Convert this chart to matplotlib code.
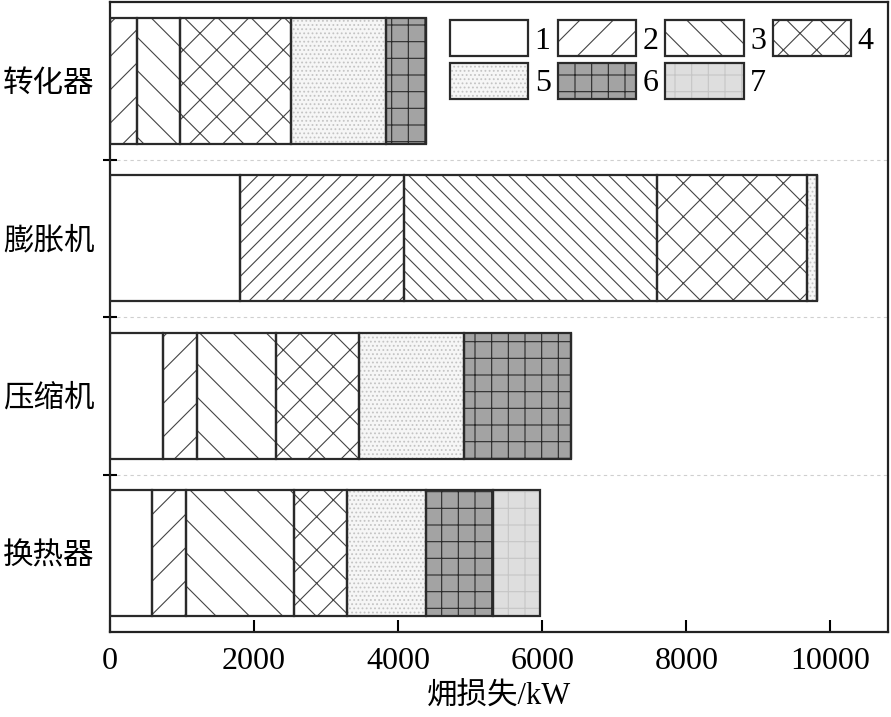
import numpy as np
import matplotlib
matplotlib.use('Agg')
import matplotlib.pyplot as plt
from matplotlib.patches import Patch

plt.rcParams['font.family'] = ['Liberation Serif', 'Noto Sans CJK SC']
plt.rcParams['hatch.linewidth'] = 0.8

# units from bottom to top
units = ['换热器', '压缩机', '膨胀机', '转化器']
labels = ['1', '2', '3', '4', '5', '6', '7']

# exergy loss of each part (kW), one list per legend item
s1 = [580, 740, 1800, 0]
s2 = [470, 470, 2280, 380]
s3 = [1500, 1090, 3510, 590]
s4 = [740, 1150, 2080, 1540]
s5 = [1090, 1470, 150, 1320]
s6 = [935, 1480, 0, 550]
s7 = [660, 0, 0, 0]
series = [s1, s2, s3, s4, s5, s6, s7]

# face colour, hatch, hatch colour
styles = [
    ('white', '', '#222222'),
    ('white', '/', '#444444'),
    ('white', '\\', '#444444'),
    ('white', 'x', '#444444'),
    ('#f6f6f6', '....', '#c4c4c4'),
    ('#a3a3a3', '+', '#2a2a2a'),
    ('#dedede', '+', '#c6c6c6'),
]
edge = '#2a2a2a'

fig = plt.figure(figsize=(8.91, 7.17), dpi=100)
ax = fig.add_axes([110/891, 1 - 632/717, 778/891, 630/717])

y = np.arange(len(units))
left = np.zeros(len(units))
for vals, (fc, hatch, hc) in zip(series, styles):
    vals = np.array(vals, dtype=float)
    bars = ax.barh(y, vals, left=left, height=0.8, color=fc, edgecolor=hc,
                   hatch=hatch, linewidth=0, zorder=2)
    # the expander bar has denser hatching
    if hatch in ('/', '\\'):
        bars[2].set_hatch(hatch * 2)
    ax.barh(y, vals, left=left, height=0.8, fill=False, edgecolor=edge,
            linewidth=1.6, zorder=3)
    left += vals

ax.set_xlim(0, 10800)
ax.set_ylim(-0.5, 3.5)
ax.set_xticks(np.arange(0, 10001, 2000))
ax.set_yticks(y)
ax.set_yticklabels(units)
ax.set_yticks([0.5, 1.5, 2.5], minor=True)
ax.grid(which='minor', axis='y', color='#cfcfcf', linestyle=(0, (3, 3)), linewidth=0.8)
ax.set_axisbelow(True)

ax.tick_params(axis='x', direction='in', length=9, width=1.5, labelsize=23, pad=11)
ax.tick_params(axis='y', which='major', length=0, labelsize=22, pad=11)
ax.tick_params(axis='y', which='minor', direction='inout', length=10, width=1.5)
for sp in ax.spines.values():
    sp.set_linewidth(1.6)
    sp.set_color('#222222')

ax.set_xlabel('㶲损失/kW', fontsize=22, labelpad=5)

handles = []
for fc, hatch, hc in styles:
    handles.append((Patch(facecolor=fc, edgecolor=hc, hatch=hatch, linewidth=0),
                    Patch(fill=False, edgecolor=edge, linewidth=1.6)))
order = [0, 4, 1, 5, 2, 6, 3]
ax.legend([handles[i] for i in order], [labels[i] for i in order], ncol=4,
          loc='upper left', bbox_to_anchor=(0.437, 0.971), frameon=False,
          fontsize=23, handlelength=2.45, handleheight=1.36, handletextpad=0.2,
          columnspacing=0.22, labelspacing=0.2, borderpad=0, borderaxespad=0)

fig.savefig('out.png', dpi=100)
